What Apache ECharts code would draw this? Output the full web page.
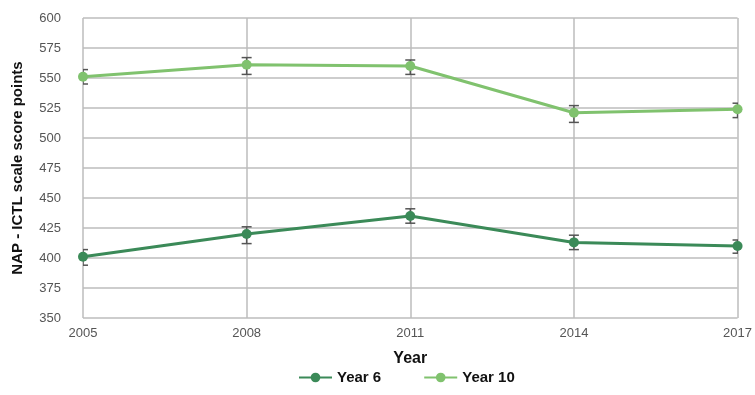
<!DOCTYPE html>
<html><head><meta charset="utf-8">
<script src="https://cdn.jsdelivr.net/npm/echarts@6/dist/echarts.min.js"></script>
<style>html,body{margin:0;padding:0;background:#fff}#c{width:755px;height:395px}</style>
</head><body><div id="c"></div>
<script>
var years = [2005, 2008, 2011, 2014, 2017];
var year6 = [401, 420, 435, 413, 410];
var year6Low = [394, 412, 429, 407, 404];
var year6High = [407, 426, 441, 419, 415];
var year10 = [551, 561, 560, 521, 524];
var year10Low = [545, 553, 553, 513, 517];
var year10High = [557, 567, 565, 527, 529];

var chart = echarts.init(document.getElementById('c'));
function pairs(v){ return years.map(function(y,i){return [y, v[i]];}); }
function errData(lo, hi){ return years.map(function(y,i){return [y, lo[i], hi[i]];}); }
function errRender(params, api){
  var x = api.value(0);
  var lo = api.coord([x, api.value(1)]);
  var hi = api.coord([x, api.value(2)]);
  var w = 5;
  var st = {stroke:'#555', lineWidth:1.5};
  return {type:'group', children:[
    {type:'line', shape:{x1:lo[0],y1:lo[1],x2:hi[0],y2:hi[1]}, style:st},
    {type:'line', shape:{x1:lo[0]-w,y1:lo[1],x2:lo[0]+w,y2:lo[1]}, style:st},
    {type:'line', shape:{x1:hi[0]-w,y1:hi[1],x2:hi[0]+w,y2:hi[1]}, style:st}
  ]};
}
var font = 'Helvetica, Arial, "Liberation Sans", sans-serif';
chart.setOption({
  animation:false,
  grid:{left:83, right:17, top:18, bottom:77},
  xAxis:{type:'value', min:2005, max:2017, interval:3,
    name:'Year', nameLocation:'middle', nameGap:33,
    nameTextStyle:{fontWeight:'bold', fontSize:16, color:'#111', fontFamily:font},
    axisLine:{show:false}, axisTick:{show:false},
    axisLabel:{color:'#555', fontSize:13, fontFamily:font, margin:9, formatter:function(v){return String(v);}},
    splitLine:{lineStyle:{color:'#bdbdbd', width:1.5}}},
  yAxis:{type:'value', min:350, max:600, interval:25,
    name:'NAP - ICTL scale score points', nameLocation:'middle', nameGap:58,
    nameTextStyle:{fontWeight:'bold', fontSize:15, color:'#111', fontFamily:font},
    axisLine:{show:false}, axisTick:{show:false},
    axisLabel:{color:'#555', fontSize:13, fontFamily:font, margin:22},
    splitLine:{lineStyle:{color:'#bdbdbd', width:1.5}}},
  legend:{bottom:5, left:293, itemWidth:33, itemHeight:12, itemGap:42,
    textStyle:{fontWeight:'bold', fontSize:15, color:'#111', fontFamily:font},
    data:['Year 6','Year 10']},
  series:[
    {type:'custom', renderItem:errRender, data:errData(year6Low, year6High), z:2, clip:true,
     encode:{x:0, y:[1,2]}},
    {type:'custom', renderItem:errRender, data:errData(year10Low, year10High), z:2, clip:true,
     encode:{x:0, y:[1,2]}},
    {name:'Year 6', type:'line', data:pairs(year6), symbol:'circle', symbolSize:10,
     lineStyle:{width:3, color:'#3b8a58'}, itemStyle:{color:'#3b8a58'}, z:3},
    {name:'Year 10', type:'line', data:pairs(year10), symbol:'circle', symbolSize:10,
     lineStyle:{width:3, color:'#80c26e'}, itemStyle:{color:'#80c26e'}, z:3}
  ]
});
</script></body></html>
